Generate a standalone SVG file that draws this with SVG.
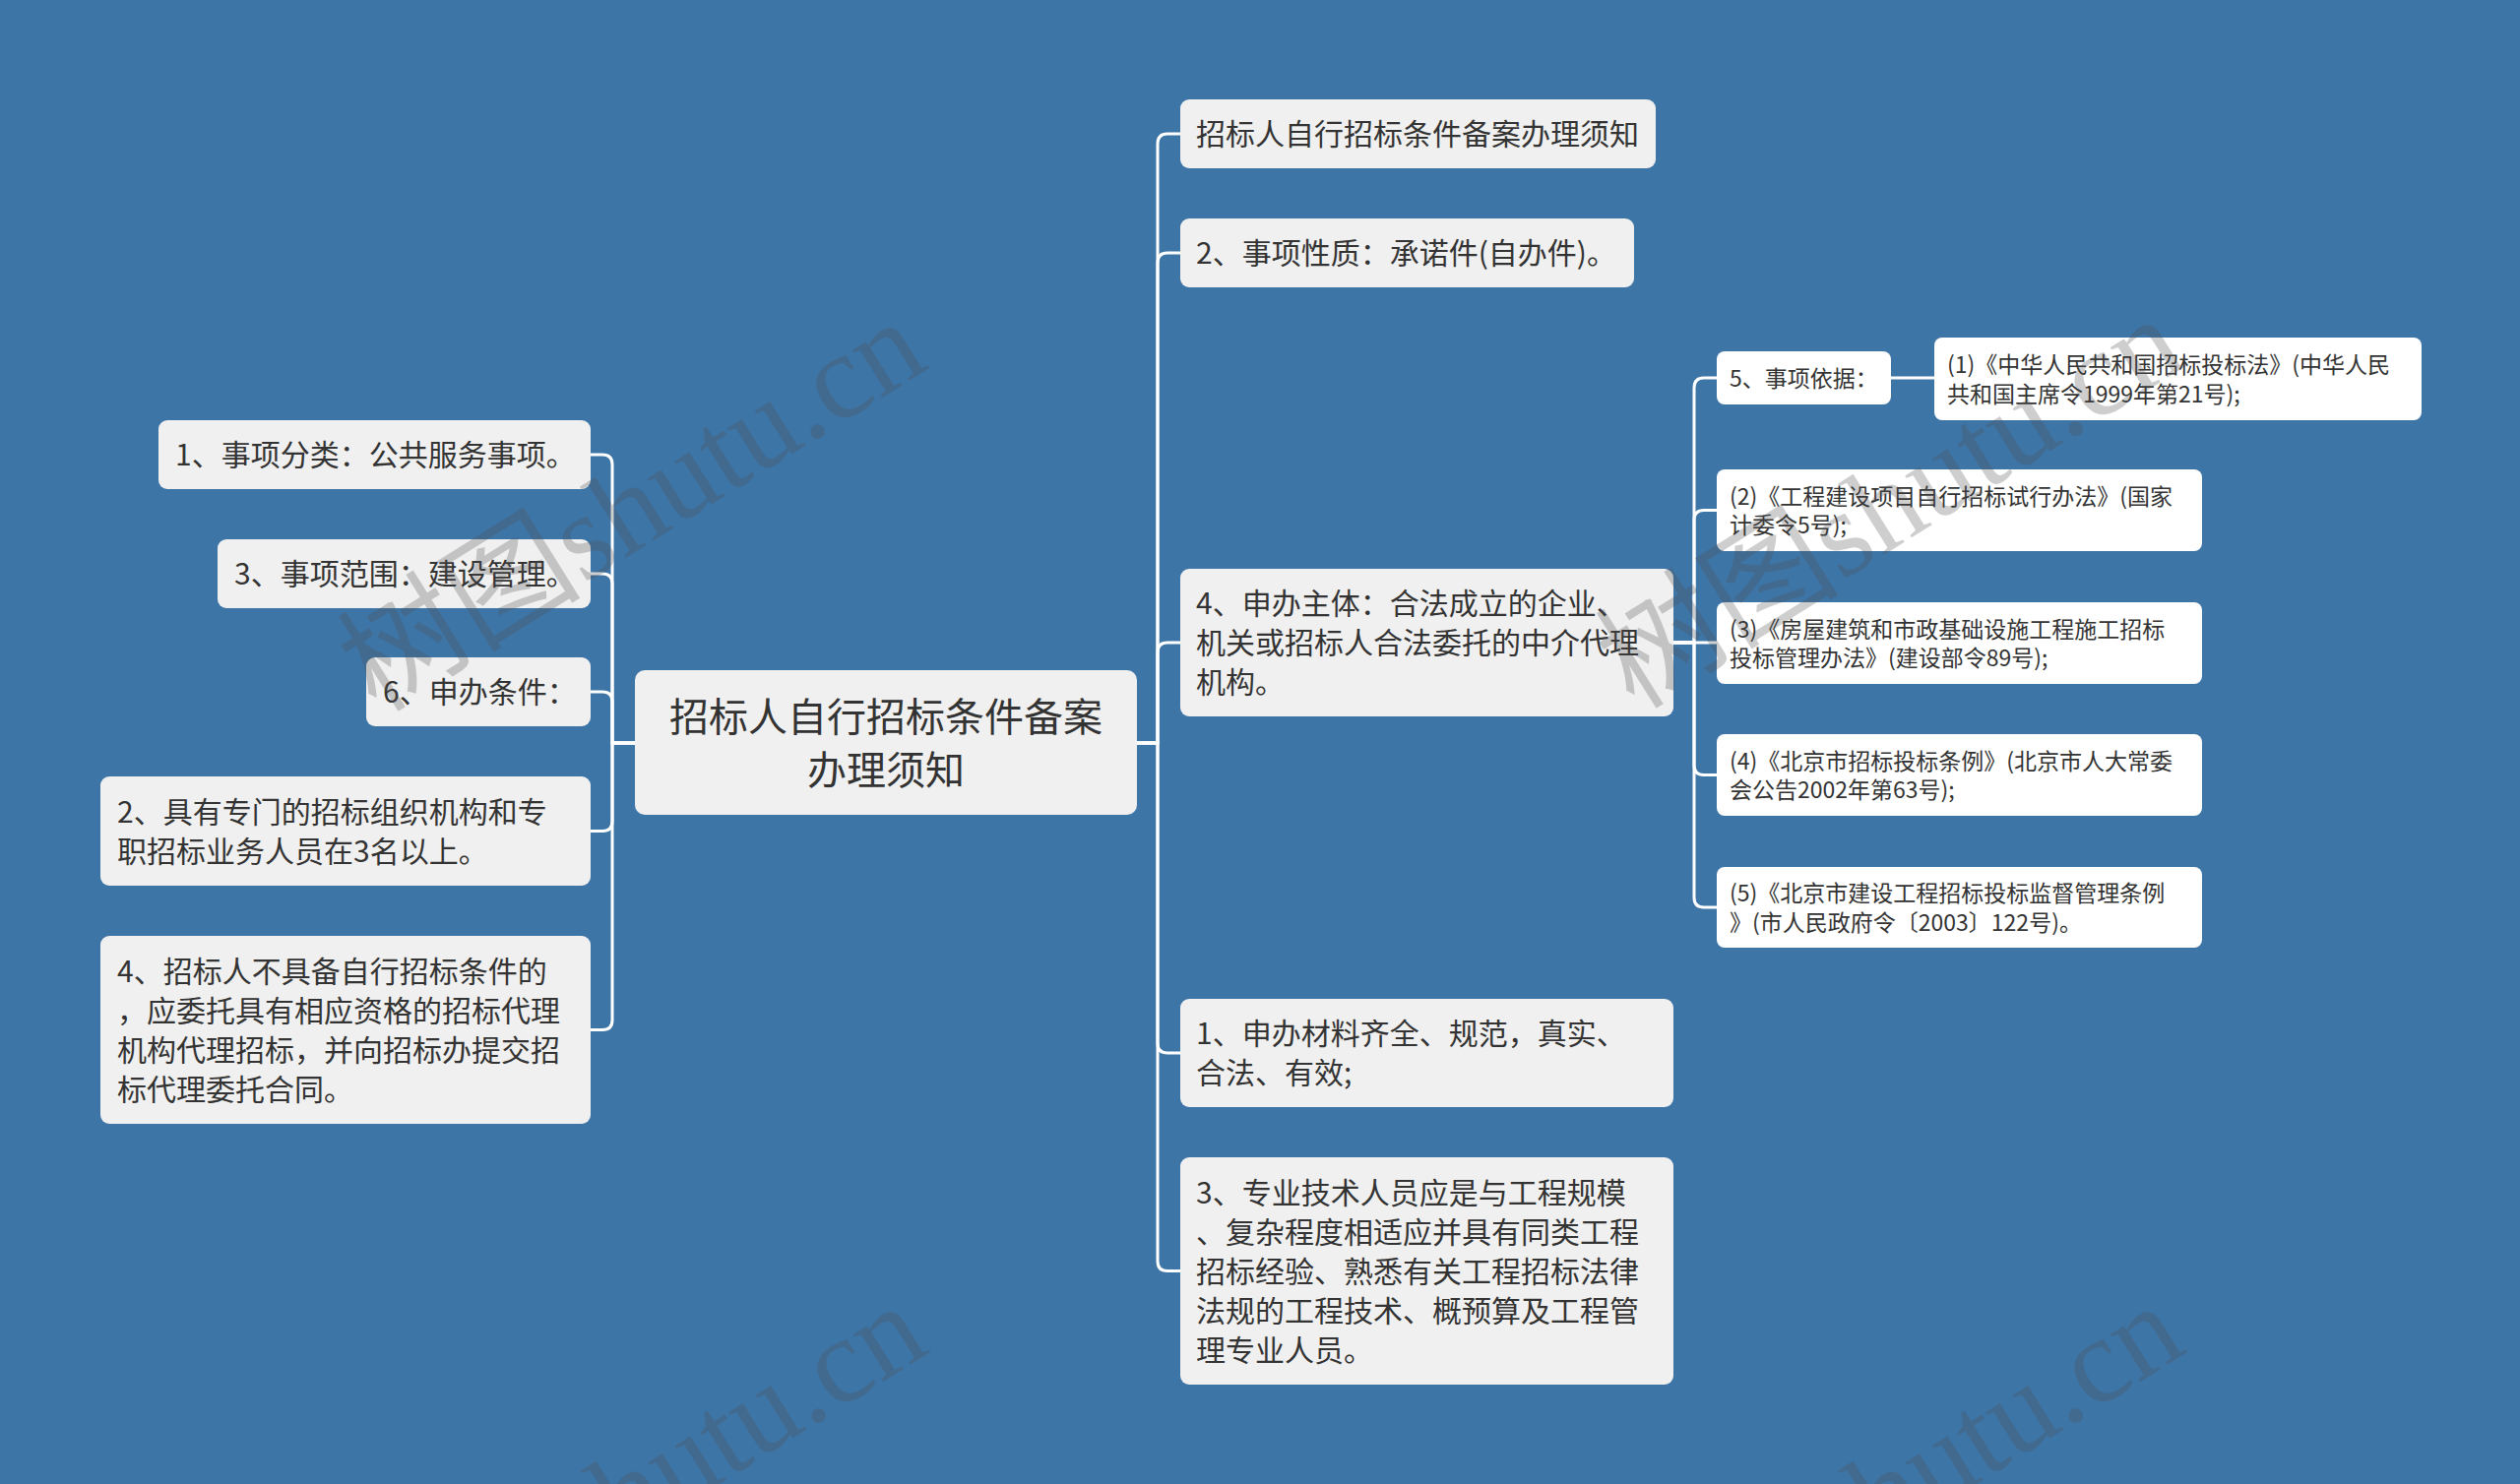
<svg xmlns="http://www.w3.org/2000/svg" width="2560" height="1508" viewBox="0 0 2560 1508">
<style>
.bg{fill:#3e75a7}
.n1{fill:#f0f0f0}
.n2{fill:#ffffff}
.t{font-family:"Noto Sans CJK SC","Noto Sans",sans-serif;fill:#333333}
.t30{font-size:30px}
.t22{font-size:23px}
.t40{font-size:40px}
.c{fill:none;stroke:#ffffff;stroke-width:3;stroke-linejoin:round}
.wm{font-family:"Liberation Serif","Noto Sans CJK SC",serif;font-size:124px;fill:#505050;fill-opacity:0.28}
</style>
<rect class="bg" x="0" y="0" width="2560" height="1508"/>

<g id="connectors">
  <path class="c" d="M645 755 H622 V472 Q622 462 612 462 H600"/>
  <path class="c" d="M645 755 H622 V593 Q622 583 612 583 H600"/>
  <path class="c" d="M645 755 H622 V713 Q622 703 612 703 H600"/>
  <path class="c" d="M645 755 H622 V834.5 Q622 844.5 612 844.5 H600"/>
  <path class="c" d="M645 755 H622 V1036.5 Q622 1046.5 612 1046.5 H600"/>
  <path class="c" d="M1155 755 H1176 V146 Q1176 136 1186 136 H1199"/>
  <path class="c" d="M1155 755 H1176 V267 Q1176 257 1186 257 H1199"/>
  <path class="c" d="M1155 755 H1176 V663 Q1176 653 1186 653 H1199"/>
  <path class="c" d="M1155 755 H1176 V1060 Q1176 1070 1186 1070 H1199"/>
  <path class="c" d="M1155 755 H1176 V1281.5 Q1176 1291.5 1186 1291.5 H1199"/>
  <path class="c" d="M1700 653 H1721 V394 Q1721 384 1731 384 H1744"/>
  <path class="c" d="M1700 653 H1721 V528.5 Q1721 518.5 1731 518.5 H1744"/>
  <path class="c" d="M1700 653 H1744"/>
  <path class="c" d="M1700 653 H1721 V777.5 Q1721 787.5 1731 787.5 H1744"/>
  <path class="c" d="M1700 653 H1721 V912 Q1721 922 1731 922 H1744"/>
  <path class="c" d="M1921 384 H1965"/>
</g>

<g id="root">
  <rect class="n1" x="645" y="681" width="510" height="147" rx="10"/>
  <text class="t t40" x="900" y="743" text-anchor="middle">招标人自行招标条件备案</text>
  <text class="t t40" x="900" y="797" text-anchor="middle">办理须知</text>
</g>

<g id="node-l1">
  <rect class="n1" x="161" y="427" width="439" height="70" rx="9"/>
  <text class="t t30" x="178" y="473">1、事项分类：公共服务事项。</text>
</g>
<g id="node-l2">
  <rect class="n1" x="221" y="548" width="379" height="70" rx="9"/>
  <text class="t t30" x="238" y="594">3、事项范围：建设管理。</text>
</g>
<g id="node-l3">
  <rect class="n1" x="372" y="668" width="228" height="70" rx="9"/>
  <text class="t t30" x="389" y="714">6、申办条件：</text>
</g>
<g id="node-l4">
  <rect class="n1" x="102" y="789" width="498" height="111" rx="9"/>
  <text class="t t30" x="119" y="836">2、具有专门的招标组织机构和专</text>
  <text class="t t30" x="119" y="876">职招标业务人员在3名以上。</text>
</g>
<g id="node-l5">
  <rect class="n1" x="102" y="951" width="498" height="191" rx="9"/>
  <text class="t t30" x="119" y="998">4、招标人不具备自行招标条件的</text>
  <text class="t t30" x="119" y="1038">，应委托具有相应资格的招标代理</text>
  <text class="t t30" x="119" y="1078">机构代理招标，并向招标办提交招</text>
  <text class="t t30" x="119" y="1118">标代理委托合同。</text>
</g>

<g id="node-r1">
  <rect class="n1" x="1199" y="101" width="483" height="70" rx="9"/>
  <text class="t t30" x="1215" y="147">招标人自行招标条件备案办理须知</text>
</g>
<g id="node-r2">
  <rect class="n1" x="1199" y="222" width="461" height="70" rx="9"/>
  <text class="t t30" x="1215" y="268">2、事项性质：承诺件(自办件)。</text>
</g>
<g id="node-r3">
  <rect class="n1" x="1199" y="578" width="501" height="150" rx="9"/>
  <text class="t t30" x="1215" y="624">4、申办主体：合法成立的企业、</text>
  <text class="t t30" x="1215" y="664">机关或招标人合法委托的中介代理</text>
  <text class="t t30" x="1215" y="704">机构。</text>
</g>
<g id="node-r4">
  <rect class="n1" x="1199" y="1015" width="501" height="110" rx="9"/>
  <text class="t t30" x="1215" y="1061">1、申办材料齐全、规范，真实、</text>
  <text class="t t30" x="1215" y="1101">合法、有效;</text>
</g>
<g id="node-r5">
  <rect class="n1" x="1199" y="1176" width="501" height="231" rx="9"/>
  <text class="t t30" x="1215" y="1223">3、专业技术人员应是与工程规模</text>
  <text class="t t30" x="1215" y="1263">、复杂程度相适应并具有同类工程</text>
  <text class="t t30" x="1215" y="1303">招标经验、熟悉有关工程招标法律</text>
  <text class="t t30" x="1215" y="1343">法规的工程技术、概预算及工程管</text>
  <text class="t t30" x="1215" y="1383">理专业人员。</text>
</g>

<g id="node-s1">
  <rect class="n2" x="1744" y="357" width="177" height="54" rx="8"/>
  <text class="t t22" x="1757" y="392.5">5、事项依据：</text>
</g>
<g id="node-s1a">
  <rect class="n2" x="1965" y="343" width="495" height="84" rx="8"/>
  <text class="t t22" x="1978" y="379">(1)《中华人民共和国招标投标法》(中华人民</text>
  <text class="t t22" x="1978" y="408.5">共和国主席令1999年第21号);</text>
</g>
<g id="node-s2">
  <rect class="n2" x="1744" y="477" width="493" height="83" rx="8"/>
  <text class="t t22" x="1757" y="512.5">(2)《工程建设项目自行招标试行办法》(国家</text>
  <text class="t t22" x="1757" y="542">计委令5号);</text>
</g>
<g id="node-s3">
  <rect class="n2" x="1744" y="612" width="493" height="83" rx="8"/>
  <text class="t t22" x="1757" y="647.5">(3)《房屋建筑和市政基础设施工程施工招标</text>
  <text class="t t22" x="1757" y="677">投标管理办法》(建设部令89号);</text>
</g>
<g id="node-s4">
  <rect class="n2" x="1744" y="746" width="493" height="83" rx="8"/>
  <text class="t t22" x="1757" y="781.5">(4)《北京市招标投标条例》(北京市人大常委</text>
  <text class="t t22" x="1757" y="811">会公告2002年第63号);</text>
</g>
<g id="node-s5">
  <rect class="n2" x="1744" y="881" width="493" height="82" rx="8"/>
  <text class="t t22" x="1757" y="916">(5)《北京市建设工程招标投标监督管理条例</text>
  <text class="t t22" x="1757" y="945.5">》(市人民政府令〔2003〕122号)。</text>
</g>

<g id="watermarks">
  <text class="wm" text-anchor="end" transform="translate(946 373) rotate(-32)">树图shutu.cn</text>
  <text class="wm" text-anchor="end" transform="translate(2224 370) rotate(-32)">树图shutu.cn</text>
  <text class="wm" text-anchor="end" transform="translate(947 1373) rotate(-32)">树图shutu.cn</text>
  <text class="wm" text-anchor="end" transform="translate(2224 1373) rotate(-32)">树图shutu.cn</text>
</g>
</svg>
